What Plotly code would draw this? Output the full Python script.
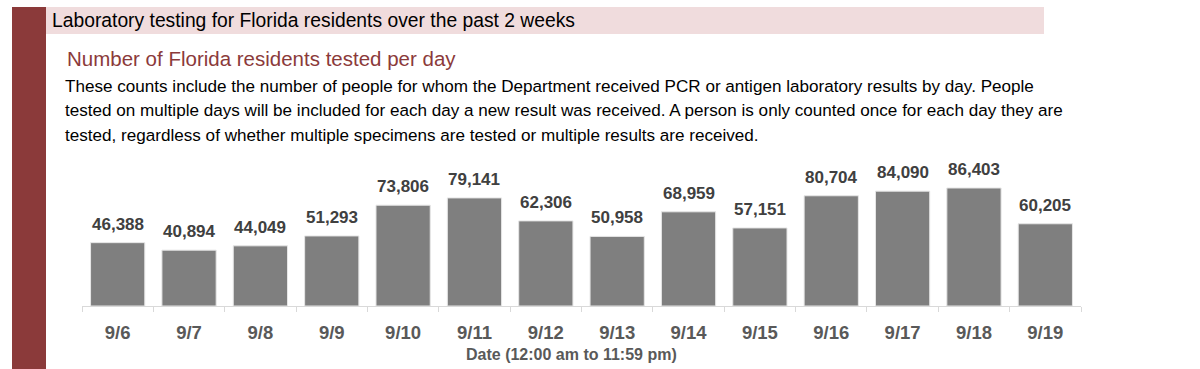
import plotly.graph_objects as go

dates = ["9/6", "9/7", "9/8", "9/9", "9/10", "9/11", "9/12", "9/13", "9/14", "9/15", "9/16", "9/17", "9/18", "9/19"]
tested = [46388, 40894, 44049, 51293, 73806, 79141, 62306, 50958, 68959, 57151, 80704, 84090, 86403, 60205]
x_title = "Date (12:00 am to 11:59 pm)"

W, H = 1200, 369
L, R, T, B = 82, 119, 160, 63
PW, PH = W - L - R, H - T - B
FONT = "Liberation Sans, Arial, sans-serif"


def px(x):
    return (x - L) / PW


def py(y):
    return (H - B - y) / PH


fig = go.Figure()
fig.add_trace(go.Bar(
    x=dates, y=tested,
    marker=dict(color="#7f7f7f", line=dict(color="#e6e6e6", width=1)),
    width=0.76,
    hoverinfo="skip",
))

shapes = [
    dict(type="rect", xref="paper", yref="paper", x0=px(12), x1=px(46), y0=py(7), y1=py(390),
         fillcolor="#8b3a3a", line=dict(width=0), layer="below"),
    dict(type="rect", xref="paper", yref="paper", x0=px(46), x1=px(1044), y0=py(7), y1=py(34),
         fillcolor="#f0dcdd", line=dict(width=0), layer="below"),
]

annotations = [
    dict(text="Laboratory testing for Florida residents over the past 2 weeks", x=px(50), y=py(20),
         xref="paper", yref="paper", xanchor="left", yanchor="middle", showarrow=False,
         font=dict(family=FONT, size=19.3, color="#000000")),
    dict(text="Number of Florida residents tested per day", x=px(65), y=py(58),
         xref="paper", yref="paper", xanchor="left", yanchor="middle", showarrow=False,
         font=dict(family=FONT, size=20.5, color="#8b3a3a")),
    dict(text=x_title, x=px(571), y=py(354), xref="paper", yref="paper",
         xanchor="center", yanchor="middle", showarrow=False,
         font=dict(family=FONT, size=16, color="#595959", weight="bold")),
]
para = [
    "These counts include the number of people for whom the Department received PCR or antigen laboratory results by day. People",
    "tested on multiple days will be included for each day a new result was received. A person is only counted once for each day they are",
    "tested, regardless of whether multiple specimens are tested or multiple results are received.",
]
for i, line in enumerate(para):
    annotations.append(dict(text=line, x=px(63), y=py(86 + 24.5 * i), xref="paper", yref="paper",
                            xanchor="left", yanchor="middle", showarrow=False,
                            font=dict(family=FONT, size=17.1, color="#000000")))

for d, v in zip(dates, tested):
    annotations.append(dict(text=f"{v:,}", x=d, y=v, xref="x", yref="y",
                            xanchor="center", yanchor="bottom", yshift=7, showarrow=False,
                            font=dict(family=FONT, size=17, color="#404040", weight="bold")))

fig.update_layout(
    width=W, height=H,
    margin=dict(l=L, r=R, t=T, b=B, autoexpand=False),
    paper_bgcolor="white", plot_bgcolor="white",
    showlegend=False,
    shapes=shapes, annotations=annotations,
    bargap=0.24,
    xaxis=dict(
        showline=True, linecolor="#d9d9d9", linewidth=1, automargin=False,
        ticks="outside", ticklen=5, tickcolor="#d9d9d9", tickson="boundaries",
        tickfont=dict(family=FONT, size=18.5, color="#595959", weight="bold"),
        ticklabelstandoff=10,
        showgrid=False, fixedrange=True,
    ),
    yaxis=dict(range=[0, 106900], visible=False, showgrid=False, fixedrange=True, automargin=False),
)

fig.write_html("out.html", config={"displayModeBar": False},
               post_script="document.body.style.margin='0';document.body.style.overflow='hidden';")
